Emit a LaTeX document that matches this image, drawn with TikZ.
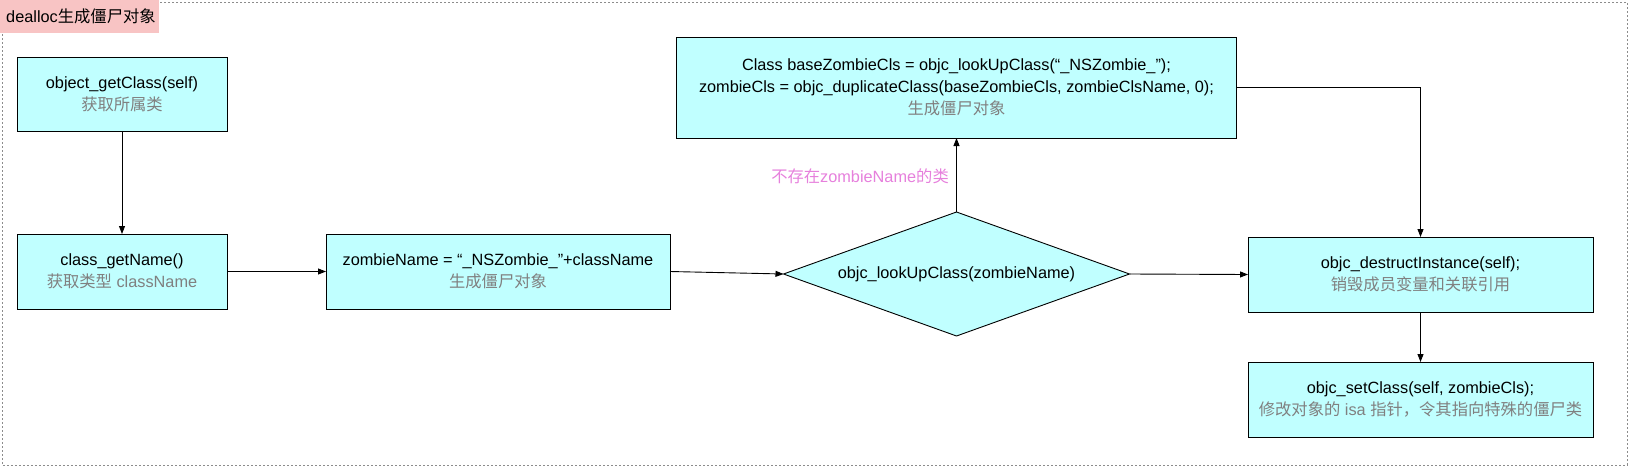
\documentclass[tikz,border=0pt]{standalone}
\usepackage{fontspec}
\setmainfont{Liberation Sans}
\newfontfamily\cjk{Noto Sans CJK SC}
\usetikzlibrary{shapes.geometric,arrows.meta}
\definecolor{boxfill}{HTML}{C0FFFF}
\definecolor{subgray}{HTML}{808080}
\definecolor{notecol}{HTML}{E680DC}
\definecolor{titlefill}{HTML}{F8C4C4}
\definecolor{framecol}{HTML}{8C8C8C}
\begin{document}
\begin{tikzpicture}[x=1pt,y=-1pt,
  txt/.style={font=\fontsize{16.3}{22}\selectfont},
  box/.style={txt, draw=black, line width=0.9pt, fill=boxfill, inner sep=0pt, outer sep=0pt, align=center},
  dia/.style={txt, diamond, draw=black, line width=0.9pt, fill=boxfill, inner sep=0pt, outer sep=0pt, shape aspect=2.8},
  arr/.style={-{Triangle[length=8pt,width=6pt]}, line width=0.9pt, draw=black},
  frame/.style={draw=framecol, line width=0.8pt, dash pattern=on 2pt off 2pt},
  sub/.style={text=subgray}
]
\useasboundingbox (0,0) rectangle (1630,466);
\draw[frame] (2,2) rectangle (1627,465);
\node[txt, fill=titlefill, anchor=north west, minimum height=33pt, text width=147pt, inner xsep=6pt, inner ysep=0pt, align=left] (ttl) at (0,0) {dealloc{\cjk 生成僵尸对象}};

\node[box, minimum width=210pt, minimum height=74pt] (b1) at (122,94)
  {object\_getClass(self)\\ {\color{subgray}\cjk 获取所属类}};
\node[box, minimum width=210pt, minimum height=75pt] (b2) at (122,271.5)
  {class\_getName()\\ {\color{subgray}{\cjk 获取类型} className}};
\node[box, minimum width=344pt, minimum height=75pt] (zn) at (498,271.5)
  {zombieName = “\_NSZombie\_”+className\\ {\color{subgray}\cjk 生成僵尸对象}};
\node[dia, minimum width=346pt, minimum height=124pt] (lk) at (956.5,274)
  {objc\_lookUpClass(zombieName)};
\node[box, minimum width=560pt, minimum height=101pt] (tp) at (956.5,87.5)
  {Class baseZombieCls = objc\_lookUpClass(“\_NSZombie\_\char"22);\\
   zombieCls = objc\_duplicateClass(baseZombieCls, zombieClsName, 0);\\
   {\color{subgray}\cjk 生成僵尸对象}};
\node[box, minimum width=345pt, minimum height=75pt] (ds) at (1420.5,274.5)
  {objc\_destructInstance(self);\\ {\color{subgray}\cjk 销毁成员变量和关联引用}};
\node[box, minimum width=345pt, minimum height=75pt] (sc) at (1420.5,399.5)
  {objc\_setClass(self, zombieCls);\\ {\color{subgray}{\cjk 修改对象的} isa {\cjk 指针，令其指向特殊的僵尸类}}};

\node[txt, text=notecol, anchor=east, inner sep=0pt] (note) at (949,176) {{\cjk 不存在}zombieName{\cjk 的类}};

\draw[arr] (b1.south) -- (b2.north);
\draw[arr] (b2.east) -- (zn.west);
\draw[arr] (zn.east) -- (lk.west);
\draw[arr] (lk.north) -- (tp.south);
\draw[arr] (lk.east) -- (ds.west);
\draw[arr] (tp.east) -| (ds.north);
\draw[arr] (ds.south) -- (sc.north);
\end{tikzpicture}
\end{document}
